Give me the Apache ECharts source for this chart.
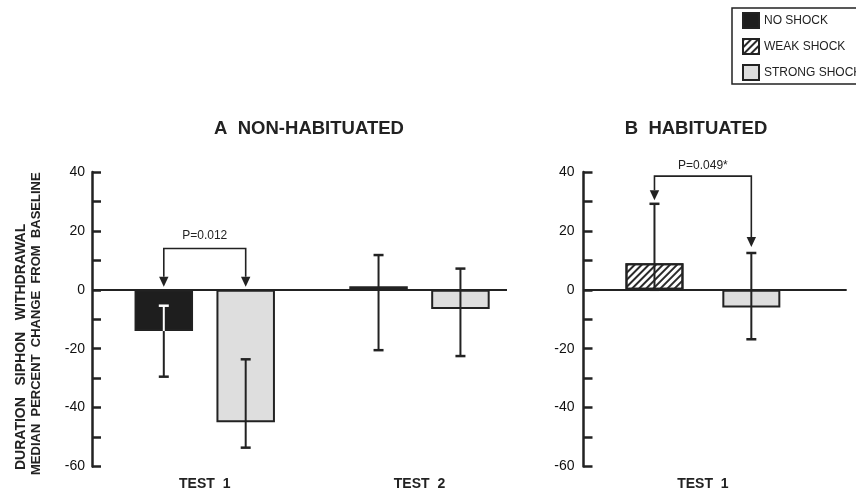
<!DOCTYPE html>
<html>
<head>
<meta charset="utf-8">
<script src="https://cdn.jsdelivr.net/npm/echarts@6/dist/echarts.min.js"></script>
<style>
  html, body { margin: 0; padding: 0; background: #fff; }
  #chart { width: 856px; height: 488px; }
</style>
</head>
<body>
<div id="chart"></div>
<script>
// ---------- data ----------
const legendNames = ['NO SHOCK', 'WEAK SHOCK', 'STRONG SHOCK'];
const titleA = 'A  NON-HABITUATED';
const titleB = 'B  HABITUATED';
const yNameLine1 = 'DURATION   SIPHON   WITHDRAWAL';
const yNameLine2 = 'MEDIAN  PERCENT  CHANGE  FROM  BASELINE';

// Panel A (non-habituated)
const categoriesA = ['TEST  1', 'TEST  2'];
const noShockA = [-14, 1.2];
const noShockErrHiA = [-5.4, 11.8];
const noShockErrLoA = [-29.5, -20.5];
const strongA = [-45, -6.5];
const strongErrHiA = [-23.6, 7.2];
const strongErrLoA = [-53.6, -22.5];
// bracket: [category index, bracket level, left arrow tip, right arrow tip]
const bracketA = [0, 14, 1, 1];
const bracketLabelA = 'P=0.012';

// Panel B (habituated)
const categoriesB = ['TEST  1'];
const weakB = [9];
const weakErrHiB = [29.2];
const weakErrLoB = [0];
const strongB = [-6];
const strongErrHiB = [12.5];
const strongErrLoB = [-16.8];
const bracketB = [0, 38.6, 30.4, 14.5];
const bracketLabelB = 'P=0.049*';

// y axis ticks
const yMin = -60, yMax = 40, yTickStep = 10, yLabelStep = 20;

// ---------- styles ----------
const INK = '#222';
const FONT = '"Liberation Sans", Arial, Helvetica, sans-serif';
const BAR_W_A = 58.5, GAP_A = 0.40;
const BAR_W_B = 58, GAP_B = 0.67;
const OFF_A = BAR_W_A * (1 + GAP_A) / 2;
const OFF_B = BAR_W_B * (1 + GAP_B) / 2;

const styleNo = { color: '#1e1e1e', borderColor: INK, borderWidth: 2 };
const styleWeak = {
  color: '#ffffff', borderColor: INK, borderWidth: 2,
  decal: { symbol: 'rect', symbolSize: 1, dashArrayX: [1, 0], dashArrayY: [1.4, 3], rotation: -Math.PI / 4, color: '#2a2a2a' }
};
const styleStrong = { color: '#dedede', borderColor: INK, borderWidth: 2 };

const pairs = (vals) => vals.map((v, i) => [i, v]);

function barSeries(name, vals, gi, style, barW, gap, zeroLine) {
  const s = {
    name, type: 'bar', xAxisIndex: gi, yAxisIndex: gi,
    data: pairs(vals), barWidth: barW, barGap: (gap * 100) + '%',
    itemStyle: style, z: 2
  };
  if (zeroLine) {
    s.markLine = {
      silent: true, symbol: 'none', label: { show: false },
      lineStyle: { color: INK, width: 2, type: 'solid' },
      data: [{ yAxis: 0 }], z: 5
    };
  }
  return s;
}

function errorSeries(gi, vals, lo, hi, offset, dark) {
  return {
    type: 'custom', xAxisIndex: gi, yAxisIndex: gi, z: 4, silent: true,
    data: vals.map((v, i) => [i, lo[i], hi[i], v]),
    renderItem: function (params, api) {
      const x = api.value(0), l = api.value(1), h = api.value(2), v = api.value(3);
      const cx = api.coord([x, 0])[0] + offset;
      const py = val => api.coord([x, val])[1];
      const bLo = Math.min(0, v), bHi = Math.max(0, v);
      const thick = Math.abs(py(bLo) - py(bHi)) > 6;
      const children = [];
      const seg = (a, b, col) => {
        if (b <= a) return;
        children.push({ type: 'line', shape: { x1: cx, y1: py(a), x2: cx, y2: py(b) },
          style: { stroke: col, lineWidth: 2 } });
      };
      const inside = val => dark && thick && val >= bLo && val <= bHi;
      if (dark && thick) {
        seg(l, Math.min(h, bLo), INK);
        seg(Math.max(l, bLo), Math.min(h, bHi), '#ffffff');
        seg(Math.max(l, bHi), h, INK);
      } else {
        seg(l, h, INK);
      }
      [l, h].forEach(val => {
        children.push({ type: 'line', shape: { x1: cx - 5, y1: py(val), x2: cx + 5, y2: py(val) },
          style: { stroke: inside(val) ? '#ffffff' : INK, lineWidth: 2.5 } });
      });
      return { type: 'group', children };
    }
  };
}

function bracketSeries(gi, br, label, offset, labelGap) {
  return {
    type: 'custom', xAxisIndex: gi, yAxisIndex: gi, z: 6, silent: true,
    data: [br],
    renderItem: function (params, api) {
      const x = api.value(0);
      const c = api.coord([x, api.value(1)]);
      const xl = c[0] - offset, xr = c[0] + offset, yb = c[1];
      const tl = api.coord([x, api.value(2)])[1];
      const tr = api.coord([x, api.value(3)])[1];
      const ah = 10, aw = 4.7;
      return {
        type: 'group', children: [
          { type: 'polyline', shape: { points: [[xl, tl - ah], [xl, yb], [xr, yb], [xr, tr - ah]] },
            style: { stroke: INK, lineWidth: 1.6, fill: null } },
          { type: 'polygon', shape: { points: [[xl - aw, tl - ah], [xl + aw, tl - ah], [xl, tl]] },
            style: { fill: INK } },
          { type: 'polygon', shape: { points: [[xr - aw, tr - ah], [xr + aw, tr - ah], [xr, tr]] },
            style: { fill: INK } },
          { type: 'text', x: (xl + xr) / 2, y: yb - labelGap,
            style: { text: label, font: '12px ' + FONT, fill: INK, textAlign: 'center', textVerticalAlign: 'middle', align: 'center', verticalAlign: 'middle' } }
        ]
      };
    }
  };
}

function yAxisCfg(gi, margin) {
  return {
    type: 'value', gridIndex: gi, min: yMin, max: yMax, interval: yTickStep,
    axisLine: { show: true, onZero: false, lineStyle: { color: INK, width: 2.5 } },
    axisTick: { show: true, inside: true, length: 9, lineStyle: { color: INK, width: 2.5 } },
    axisLabel: {
      show: true, margin, color: '#111', fontSize: 14, fontFamily: FONT,
      formatter: v => (v % yLabelStep === 0 ? String(v) : '')
    },
    splitLine: { show: false }
  };
}

function xAxisCfg(gi, min, max, cats) {
  return {
    type: 'value', gridIndex: gi, min, max,
    axisLine: { show: false, onZero: false },
    axisTick: { show: false },
    splitLine: { show: false },
    axisLabel: {
      show: true, customValues: cats.map((_, i) => i), margin: 11,
      color: INK, fontSize: 14, fontWeight: 'bold', fontFamily: FONT,
      formatter: v => cats[Math.round(v)] || ''
    }
  };
}

const chart = echarts.init(document.getElementById('chart'), null, { renderer: 'canvas' });

const option = {
  animation: false,
  backgroundColor: '#ffffff',
  textStyle: { fontFamily: FONT },
  legend: {
    data: legendNames, orient: 'vertical', left: 732, top: 8,
    itemWidth: 16, itemHeight: 15, itemGap: 9, selectedMode: false,
    padding: [4, 10, 3, 10],
    borderColor: INK, borderWidth: 1.5, borderRadius: 0,
    textStyle: { color: INK, fontSize: 12, fontFamily: FONT },
    icon: 'rect'
  },
  graphic: [
    { type: 'text', x: 309, y: 129, style: { text: titleA, font: 'bold 18.5px ' + FONT, fill: INK, textAlign: 'center', textVerticalAlign: 'middle' } },
    { type: 'text', x: 696, y: 129, style: { text: titleB, font: 'bold 18.5px ' + FONT, fill: INK, textAlign: 'center', textVerticalAlign: 'middle' } },
    { type: 'text', x: 21, y: 470, rotation: Math.PI / 2, style: { text: yNameLine1, font: 'bold 14px ' + FONT, fill: INK, textAlign: 'left', textVerticalAlign: 'middle' } },
    { type: 'text', x: 36, y: 475, rotation: Math.PI / 2, style: { text: yNameLine2, font: 'bold 13px ' + FONT, fill: INK, textAlign: 'left', textVerticalAlign: 'middle' } }
  ],
  grid: [
    { left: 92, top: 172, width: 415, height: 294.5, containLabel: false, outerBoundsMode: 'none' },
    { left: 583.5, top: 172, width: 263.2, height: 294.5, containLabel: false, outerBoundsMode: 'none' }
  ],
  xAxis: [
    xAxisCfg(0, -0.525, 1.4075, categoriesA),
    xAxisCfg(1, -0.556, 0.6696, categoriesB)
  ],
  yAxis: [yAxisCfg(0, 7), yAxisCfg(1, 9)],
  series: [
    barSeries('NO SHOCK', noShockA, 0, styleNo, BAR_W_A, GAP_A, true),
    barSeries('STRONG SHOCK', strongA, 0, styleStrong, BAR_W_A, GAP_A, false),
    barSeries('WEAK SHOCK', weakB, 1, styleWeak, BAR_W_B, GAP_B, true),
    barSeries('STRONG SHOCK', strongB, 1, styleStrong, BAR_W_B, GAP_B, false),
    errorSeries(0, noShockA, noShockErrLoA, noShockErrHiA, -OFF_A, true),
    errorSeries(0, strongA, strongErrLoA, strongErrHiA, OFF_A, false),
    errorSeries(1, weakB, weakErrLoB, weakErrHiB, -OFF_B, false),
    errorSeries(1, strongB, strongErrLoB, strongErrHiB, OFF_B, false),
    bracketSeries(0, bracketA, bracketLabelA, OFF_A, 13),
    bracketSeries(1, bracketB, bracketLabelB, OFF_B, 10)
  ]
};
chart.setOption(option);
</script>
</body>
</html>
